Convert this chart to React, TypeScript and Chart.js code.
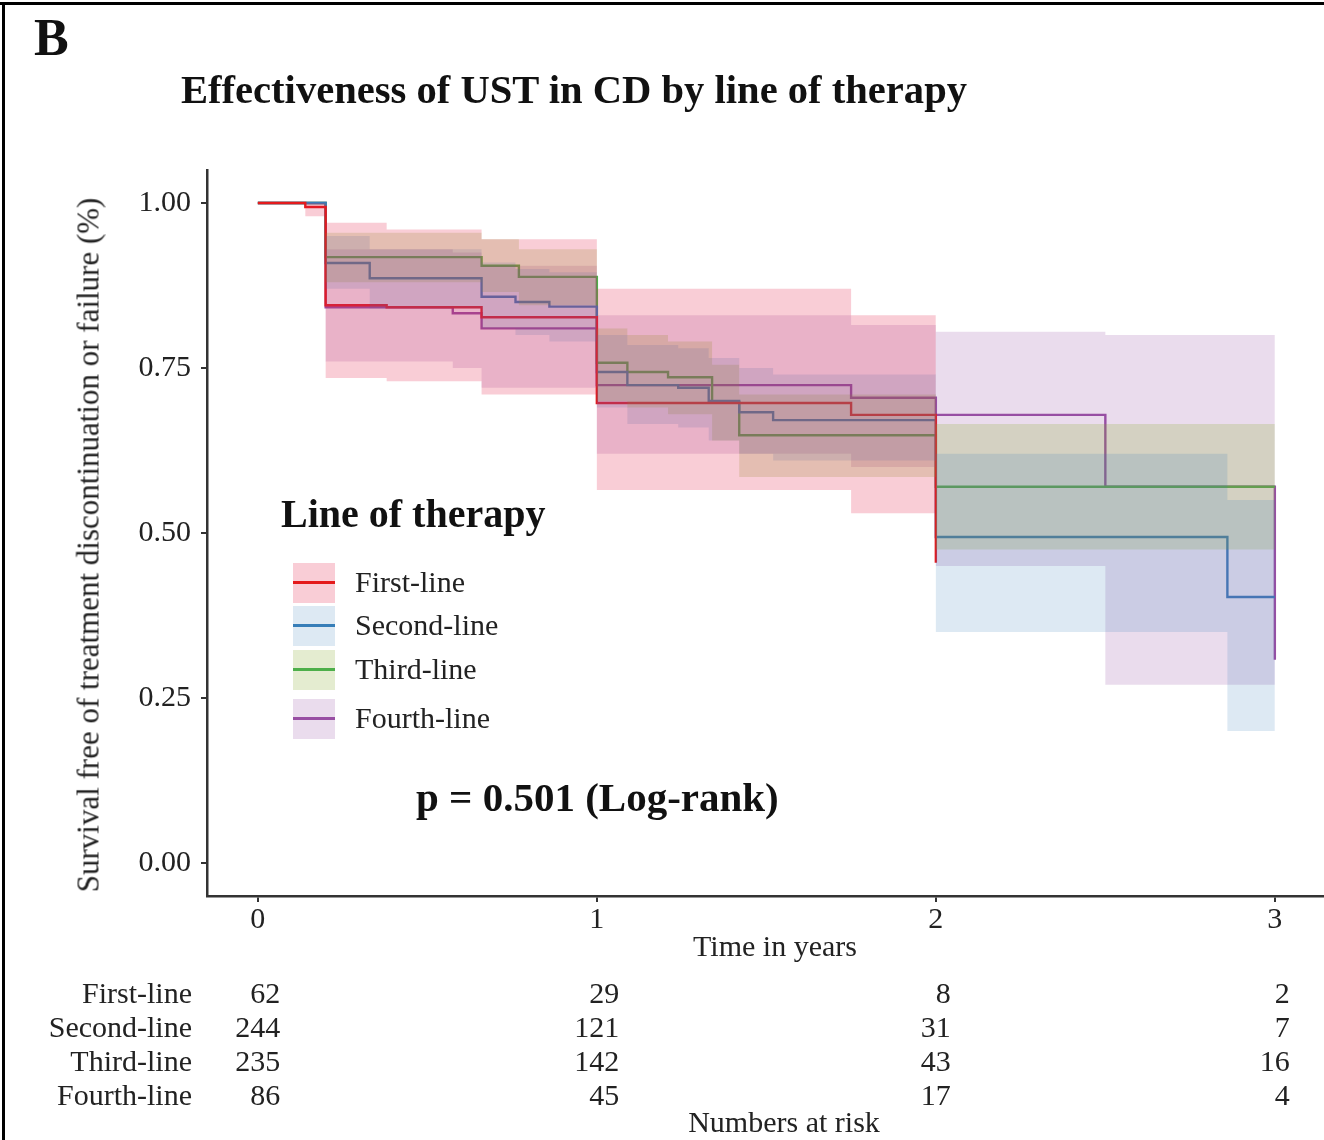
import React, { useEffect, useRef, useState } from "react";
import { Chart, registerables } from "chart.js";

Chart.register(...registerables);

// ---------- data ----------
const seriesNames = ["First-line", "Second-line", "Third-line", "Fourth-line"];
const seriesColors = ["#E41A1C", "#377EB8", "#4DAF4A", "#984EA3"];
const bandColors = [
  "rgba(228,26,70,0.22)",
  "rgba(55,126,184,0.17)",
  "rgba(130,170,40,0.22)",
  "rgba(152,78,163,0.20)",
];

const firstTimes = [0, 0.14, 0.2, 0.38, 0.66, 1.0, 1.75, 2.0];
const firstSurv = [1, 0.994, 0.845, 0.842, 0.827, 0.697, 0.679, 0.455];
const firstUpper = [1, 1, 0.97, 0.96, 0.945, 0.87, 0.83, 0.8];
const firstLower = [1, 0.98, 0.735, 0.73, 0.71, 0.565, 0.53, 0.34];

const secondTimes = [0, 0.2, 0.33, 0.66, 0.76, 0.86, 1.0, 1.09, 1.24, 1.33, 1.42, 1.52, 2.0, 2.86, 3.0];
const secondSurv = [1, 0.909, 0.886, 0.858, 0.85, 0.843, 0.744, 0.724, 0.72, 0.7, 0.683, 0.671, 0.494, 0.403, 0.403];
const secondUpper = [1, 0.95, 0.93, 0.91, 0.9, 0.895, 0.8, 0.785, 0.78, 0.765, 0.75, 0.74, 0.62, 0.55, 0.55];
const secondLower = [1, 0.87, 0.84, 0.81, 0.8, 0.79, 0.69, 0.665, 0.66, 0.64, 0.62, 0.61, 0.35, 0.2, 0.2];

const thirdTimes = [0, 0.2, 0.66, 0.77, 1.0, 1.09, 1.21, 1.34, 1.42, 2.0, 3.0];
const thirdSurv = [1, 0.918, 0.905, 0.888, 0.758, 0.744, 0.736, 0.698, 0.648, 0.57, 0.57];
const thirdUpper = [1, 0.955, 0.945, 0.93, 0.81, 0.8, 0.79, 0.755, 0.71, 0.665, 0.665];
const thirdLower = [1, 0.88, 0.865, 0.845, 0.7, 0.69, 0.68, 0.64, 0.585, 0.475, 0.475];

const fourthTimes = [0, 0.2, 0.575, 0.66, 1.0, 1.75, 2.0, 2.5, 3.0];
const fourthSurv = [1, 0.842, 0.833, 0.81, 0.724, 0.705, 0.679, 0.57, 0.308];
const fourthUpper = [1, 0.93, 0.925, 0.905, 0.83, 0.815, 0.805, 0.8, 0.79];
const fourthLower = [1, 0.76, 0.75, 0.72, 0.62, 0.6, 0.45, 0.27, 0.18];

const xTicks = [0, 1, 2, 3];
const yTicks = [0, 0.25, 0.5, 0.75, 1.0];

const riskFirst = [62, 29, 8, 2];
const riskSecond = [244, 121, 31, 7];
const riskThird = [235, 142, 43, 16];
const riskFourth = [86, 45, 17, 4];

const titleText = "Effectiveness of UST in CD by line of therapy";
const yTitle = "Survival free of treatment discontinuation or failure (%)";
const xTitle = "Time in years";
const legendTitle = "Line of therapy";
const pText = "p = 0.501 (Log-rank)";
const riskTitle = "Numbers at risk";

// ---------- build ----------
const allTimes = [firstTimes, secondTimes, thirdTimes, fourthTimes];
const allSurv = [firstSurv, secondSurv, thirdSurv, fourthSurv];
const allUpper = [firstUpper, secondUpper, thirdUpper, fourthUpper];
const allLower = [firstLower, secondLower, thirdLower, fourthLower];
const allRisk = [riskFirst, riskSecond, riskThird, riskFourth];

const pts = (t: number[], v: number[]) => t.map((x, i) => ({ x, y: v[i] }));

const FONT = "'Liberation Serif', 'DejaVu Serif', serif";

function buildDatasets() {
  const ds: any[] = [];
  seriesNames.forEach((name, i) => {
    ds.push({
      label: name,
      data: pts(allTimes[i], allSurv[i]),
      borderColor: seriesColors[i],
      borderWidth: 2.4,
      stepped: "before",
      fill: false,
      pointRadius: 0,
      order: 1,
    });
    ds.push({
      label: name + " upper",
      data: pts(allTimes[i], allUpper[i]),
      borderWidth: 0,
      borderColor: "rgba(0,0,0,0)",
      stepped: "before",
      fill: false,
      pointRadius: 0,
      order: 0,
    });
    ds.push({
      label: name + " lower",
      data: pts(allTimes[i], allLower[i]),
      borderWidth: 0,
      borderColor: "rgba(0,0,0,0)",
      backgroundColor: bandColors[i],
      stepped: "before",
      fill: "-1",
      pointRadius: 0,
      order: 0,
    });
  });
  return ds;
}

export default function App() {
  const canvasRef = useRef<HTMLCanvasElement | null>(null);
  const [riskX, setRiskX] = useState<number[]>([]);

  useEffect(() => {
    if (!canvasRef.current) return;
    const chart = new Chart(canvasRef.current, {
      type: "line",
      data: { datasets: buildDatasets() },
      options: {
        animation: false,
        responsive: false,
        devicePixelRatio: 1,
        layout: { autoPadding: false, padding: { top: 170, left: 70, right: 0, bottom: 204 } },
        plugins: {
          legend: { display: false },
          tooltip: { enabled: false },
          title: { display: false },
        },
        elements: { point: { radius: 0 } },
        scales: {
          x: {
            type: "linear",
            min: -0.15,
            max: 3.145,
            afterBuildTicks: (s: any) => {
              s.ticks = xTicks.map((v) => ({ value: v }));
            },
            afterFit: (s: any) => {
              s.height = 40;
            },
            grid: { drawOnChartArea: false, drawTicks: true, tickLength: 6, color: "#333", lineWidth: 2 },
            border: { display: true, color: "#333", width: 2.5 },
            ticks: {
              font: { family: FONT, size: 30 },
              color: "#222",
              padding: 0,
              maxRotation: 0,
              callback: (v: any) => String(v),
            },
          },
          y: {
            type: "linear",
            min: -0.05,
            max: 1.05,
            afterBuildTicks: (s: any) => {
              s.ticks = yTicks.map((v) => ({ value: v }));
            },
            afterFit: (s: any) => {
              s.width = 137;
            },
            grid: { drawOnChartArea: false, drawTicks: true, tickLength: 6, color: "#333", lineWidth: 2 },
            border: { display: true, color: "#333", width: 2.5 },
            ticks: {
              font: { family: FONT, size: 30 },
              color: "#222",
              padding: 10,
              callback: (v: any) => Number(v).toFixed(2),
            },
          },
        },
      } as any,
    });
    setRiskX(xTicks.map((t) => chart.scales.x.getPixelForValue(t)));
    return () => chart.destroy();
  }, []);

  const legendCenters = [583, 626, 670, 719];

  return (
    <div
      style={{
        position: "absolute",
        left: 0,
        top: 0,
        width: 1324,
        height: 1140,
        background: "#fff",
        overflow: "hidden",
        fontFamily: FONT,
        color: "#111",
      }}
    >
      <canvas
        ref={canvasRef}
        width={1324}
        height={1140}
        style={{ position: "absolute", left: 0, top: 0, width: 1324, height: 1140 }}
      />
      {/* frame */}
      <div style={{ position: "absolute", left: 0, top: 2, width: 1324, height: 3, background: "#000" }} />
      <div style={{ position: "absolute", left: 2, top: 2, width: 3, height: 1140, background: "#000" }} />

      <div style={{ position: "absolute", left: 34, top: 12, fontSize: 52, fontWeight: "bold", lineHeight: 1 }}>B</div>
      <div style={{ position: "absolute", left: 181, top: 70, fontSize: 40.6, fontWeight: "bold", lineHeight: 1, whiteSpace: "nowrap" }}>
        {titleText}
      </div>

      <div
        style={{
          position: "absolute",
          left: 88,
          top: 545,
          transform: "translate(-50%, -50%) rotate(-90deg)",
          fontSize: 31,
          lineHeight: 1,
          whiteSpace: "nowrap",
          color: "#222",
        }}
      >
        {yTitle}
      </div>

      {/* legend */}
      <div style={{ position: "absolute", left: 281, top: 494, fontSize: 40, fontWeight: "bold", lineHeight: 1, whiteSpace: "nowrap" }}>
        {legendTitle}
      </div>
      {seriesNames.map((name, i) => (
        <React.Fragment key={name}>
          <div
            style={{
              position: "absolute",
              left: 293,
              top: legendCenters[i] - 20,
              width: 42,
              height: 40,
              background: bandColors[i],
            }}
          />
          <div
            style={{
              position: "absolute",
              left: 293,
              top: legendCenters[i] - 2,
              width: 42,
              height: 3,
              background: seriesColors[i],
            }}
          />
          <div
            style={{
              position: "absolute",
              left: 355,
              top: legendCenters[i] - 16,
              fontSize: 30,
              lineHeight: 1,
              whiteSpace: "nowrap",
              color: "#222",
            }}
          >
            {name}
          </div>
        </React.Fragment>
      ))}

      <div style={{ position: "absolute", left: 416, top: 777, fontSize: 41, fontWeight: "bold", lineHeight: 1, whiteSpace: "nowrap" }}>
        {pText}
      </div>

      <div
        style={{
          position: "absolute",
          left: 775,
          top: 931,
          transform: "translateX(-50%)",
          fontSize: 30,
          lineHeight: 1,
          whiteSpace: "nowrap",
          color: "#222",
        }}
      >
        {xTitle}
      </div>

      {/* risk table */}
      <div style={{ position: "absolute", left: 0, top: 976, width: 192, textAlign: "right", fontSize: 30, lineHeight: "34px", color: "#222" }}>
        {seriesNames.map((n) => (
          <div key={n}>{n}</div>
        ))}
      </div>
      {riskX.map((px, c) => (
        <div
          key={c}
          style={{
            position: "absolute",
            left: px,
            top: 976,
            transform: "translateX(-50%)",
            textAlign: "right",
            fontSize: 30,
            lineHeight: "34px",
            color: "#222",
            whiteSpace: "nowrap",
          }}
        >
          {allRisk.map((r, i) => (
            <div key={i}>{r[c]}</div>
          ))}
        </div>
      ))}
      <div
        style={{
          position: "absolute",
          left: 784,
          top: 1107,
          transform: "translateX(-50%)",
          fontSize: 30,
          lineHeight: 1,
          whiteSpace: "nowrap",
          color: "#222",
        }}
      >
        {riskTitle}
      </div>
    </div>
  );
}
